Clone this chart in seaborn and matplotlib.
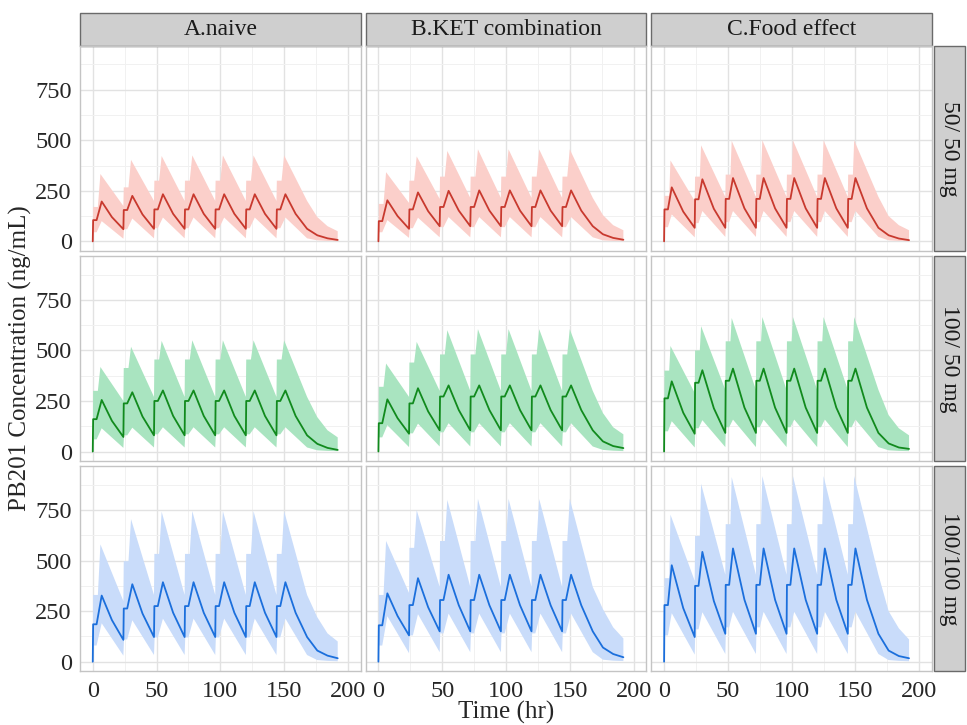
import pandas as pd
import matplotlib
matplotlib.use('Agg')
import matplotlib.pyplot as plt
from matplotlib.patches import Rectangle
from matplotlib.ticker import MultipleLocator
import seaborn as sns

studies = ['A.naive', 'B.KET combination', 'C.Food effect']
doses = ['50/ 50 mg', '100/ 50 mg', '100/100 mg']
dose_times = [0, 24, 48, 72, 96, 120, 144]
end_trough_time = 168
tail_times = [176, 184, 192]
peak_offset = [7, 7, 6]  # hours after dose, per study

# panel order: 50/50 (A, B, C), 100/50 (A, B, C), 100/100 (A, B, C)
# median
med_trough = [
    [0, 60, 62, 62, 62, 62, 62, 62],
    [0, 62, 75, 75, 75, 75, 75, 75],
    [0, 67, 67, 67, 67, 67, 67, 67],
    [0, 72, 80, 80, 80, 80, 80, 80],
    [0, 88, 105, 105, 105, 105, 105, 105],
    [0, 88, 92, 92, 92, 92, 92, 92],
    [0, 108, 122, 122, 122, 122, 122, 122],
    [0, 130, 150, 150, 150, 150, 150, 150],
    [0, 122, 138, 138, 138, 138, 138, 138],
]
med_shoulder = [
    [105, 155, 158, 158, 158, 158, 158],
    [100, 158, 170, 170, 170, 170, 170],
    [158, 208, 210, 210, 210, 210, 210],
    [160, 238, 250, 250, 250, 250, 250],
    [140, 238, 272, 272, 272, 272, 272],
    [263, 340, 350, 350, 350, 350, 350],
    [185, 263, 275, 275, 275, 275, 275],
    [180, 280, 305, 305, 305, 305, 305],
    [280, 375, 380, 380, 380, 380, 380],
]
med_peak = [
    [197, 225, 233, 233, 233, 233, 233],
    [203, 242, 250, 252, 252, 252, 252],
    [267, 307, 313, 313, 313, 313, 313],
    [255, 293, 302, 302, 302, 302, 302],
    [258, 313, 327, 327, 327, 327, 327],
    [347, 402, 410, 410, 410, 410, 410],
    [327, 383, 393, 393, 393, 393, 393],
    [338, 413, 430, 430, 430, 430, 430],
    [477, 543, 560, 560, 560, 560, 560],
]
# median 15 h after each dose (on the decline)
med_mid = [
    [120, 133, 136, 136, 136, 136, 136],
    [125, 149, 152, 152, 152, 152, 152],
    [147, 161, 163, 163, 163, 163, 163],
    [152, 173, 176, 176, 176, 176, 176],
    [165, 198, 205, 205, 205, 205, 205],
    [192, 214, 217, 217, 217, 217, 217],
    [206, 238, 242, 242, 242, 242, 242],
    [226, 269, 279, 279, 279, 279, 279],
    [265, 300, 306, 306, 306, 306, 306],
]
med_tail = [
    [30, 15, 7], [35, 17, 8], [30, 14, 6],
    [38, 18, 8], [50, 27, 17], [40, 20, 13],
    [55, 30, 17], [70, 38, 22], [55, 28, 17],
]

# upper bound of the band
hi_trough = [
    [0, 175, 200, 200, 200, 200, 200, 200],
    [0, 190, 210, 215, 215, 215, 215, 215],
    [0, 200, 220, 220, 220, 220, 220, 220],
    [0, 250, 270, 270, 270, 270, 270, 270],
    [0, 270, 300, 300, 300, 300, 300, 300],
    [0, 290, 305, 305, 305, 305, 305, 305],
    [0, 300, 330, 330, 330, 330, 330, 330],
    [0, 340, 370, 370, 370, 370, 370, 370],
    [0, 400, 430, 430, 430, 430, 430, 430],
]
hi_shoulder = [
    [170, 267, 300, 300, 300, 300, 300],
    [185, 300, 320, 320, 320, 320, 320],
    [225, 320, 330, 330, 330, 330, 330],
    [300, 413, 455, 455, 455, 455, 455],
    [320, 440, 480, 480, 480, 480, 480],
    [400, 500, 545, 545, 545, 545, 545],
    [330, 497, 533, 533, 533, 533, 533],
    [330, 563, 597, 597, 597, 597, 597],
    [413, 622, 680, 680, 680, 680, 680],
]
hi_peak = [
    [333, 403, 422, 425, 425, 425, 425],
    [342, 420, 447, 455, 455, 455, 455],
    [400, 475, 497, 500, 500, 500, 500],
    [418, 518, 547, 550, 550, 550, 550],
    [435, 542, 600, 605, 605, 605, 605],
    [522, 620, 660, 665, 665, 665, 665],
    [580, 705, 742, 745, 745, 745, 745],
    [597, 750, 800, 805, 805, 805, 805],
    [727, 880, 913, 918, 918, 918, 918],
]
hi_tail = [
    [120, 75, 50], [130, 80, 55], [125, 80, 55],
    [170, 105, 70], [190, 120, 85], [180, 115, 80],
    [220, 140, 100], [260, 170, 115], [250, 165, 110],
]

# lower bound of the band
lo_trough = [
    [0, 13, 15, 15, 15, 15, 15, 15],
    [0, 17, 20, 20, 20, 20, 20, 20],
    [0, 20, 22, 22, 22, 22, 22, 22],
    [0, 18, 20, 20, 20, 20, 20, 20],
    [0, 22, 25, 25, 25, 25, 25, 25],
    [0, 20, 22, 22, 22, 22, 22, 22],
    [0, 30, 33, 33, 33, 33, 33, 33],
    [0, 42, 47, 47, 47, 47, 47, 47],
    [0, 35, 38, 38, 38, 38, 38, 38],
]
lo_shoulder = [
    [45, 60, 65, 65, 65, 65, 65],
    [45, 65, 70, 70, 70, 70, 70],
    [70, 90, 95, 95, 95, 95, 95],
    [60, 80, 85, 85, 85, 85, 85],
    [70, 90, 95, 95, 95, 95, 95],
    [100, 115, 120, 120, 120, 120, 120],
    [80, 110, 120, 120, 120, 120, 120],
    [80, 130, 140, 140, 140, 140, 140],
    [130, 160, 170, 170, 170, 170, 170],
]
lo_peak = [
    [100, 113, 118, 118, 118, 118, 118],
    [105, 117, 120, 120, 120, 120, 120],
    [133, 150, 150, 150, 150, 150, 150],
    [115, 118, 120, 120, 120, 120, 120],
    [130, 138, 140, 140, 140, 140, 140],
    [150, 155, 158, 158, 158, 158, 158],
    [190, 205, 213, 213, 213, 213, 213],
    [225, 235, 238, 238, 238, 238, 238],
    [240, 245, 247, 247, 247, 247, 247],
]
lo_tail = [
    [5, 2, 1], [5, 2, 1], [5, 2, 1],
    [6, 3, 2], [8, 4, 2], [6, 3, 2],
    [8, 4, 2], [10, 5, 3], [8, 4, 2],
]

line_colors = ['#c8392e', '#118a1d', '#1b6fdc']
fill_colors = ['#fbcfca', '#a9e4c0', '#c9dcfa']

series = {
    'med': {'trough': med_trough, 'shoulder': med_shoulder, 'peak': med_peak,
            'mid': med_mid, 'tail': med_tail},
    'hi': {'trough': hi_trough, 'shoulder': hi_shoulder, 'peak': hi_peak, 'tail': hi_tail},
    'lo': {'trough': lo_trough, 'shoulder': lo_shoulder, 'peak': lo_peak, 'tail': lo_tail},
}


def cycle_knots(name, po):
    # (hours after dose, which array) for one dosing interval
    if name == 'med':
        return [(0, 'trough'), (0.3, 'shoulder'), (3, 'shoulder'), (po, 'peak'), (15, 'mid')]
    if name == 'hi':
        return [(0, 'trough'), (0.3, 'shoulder'), (4, 'shoulder'), (po - 1, 'peak')]
    return [(0, 'trough'), (0.5, 'shoulder'), (3, 'shoulder'), (po, 'peak')]


records = []
for r, dose in enumerate(doses):
    for c, study in enumerate(studies):
        i = r * 3 + c
        for name, arrs in series.items():
            for k, d in enumerate(dose_times):
                for off, kind in cycle_knots(name, peak_offset[c]):
                    records.append((dose, study, name, d + off, arrs[kind][i][k]))
            records.append((dose, study, name, end_trough_time, arrs['trough'][i][7]))
            for j, t in enumerate(tail_times):
                records.append((dose, study, name, t, arrs['tail'][i][j]))

df = pd.DataFrame(records, columns=['dose', 'study', 'series', 'time', 'conc'])

sns.set_style('white')
plt.rcParams['font.family'] = ['Liberation Serif', 'DejaVu Serif']


def draw_panel(data, color=None, **kws):
    ax = plt.gca()
    j = doses.index(data['dose'].iloc[0])
    hi = data[data['series'] == 'hi']
    lo = data[data['series'] == 'lo']
    ax.fill(list(hi['time']) + list(lo['time'])[::-1],
            list(hi['conc']) + list(lo['conc'])[::-1],
            color=fill_colors[j], lw=0)
    sns.lineplot(data=data[data['series'] == 'med'], x='time', y='conc',
                 color=line_colors[j], lw=1.3, estimator=None, sort=False, ax=ax)


g = sns.FacetGrid(df, row='dose', col='study', row_order=doses, col_order=studies,
                  sharex=True, sharey=True, height=2.2, aspect=1.35, despine=False)
g.map_dataframe(draw_panel)
g.set_axis_labels('', '')

for r in range(3):
    for c in range(3):
        ax = g.axes[r, c]
        ax.set_title('')
        ax.set_xlim(-10, 210)
        ax.set_ylim(-46, 966)
        ax.set_xticks([0, 50, 100, 150, 200])
        ax.set_yticks([0, 250, 500, 750])
        ax.xaxis.set_minor_locator(MultipleLocator(25))
        ax.yaxis.set_minor_locator(MultipleLocator(125))
        ax.grid(which='major', color='#e2e2e2', lw=1.0)
        ax.grid(which='minor', color='#f1f1f1', lw=0.7)
        ax.set_axisbelow(True)
        for s in ax.spines.values():
            s.set_color('#c4c4c4')
            s.set_linewidth(1.0)
        ax.tick_params(which='minor', length=0)
        ax.tick_params(axis='x', length=4 if r == 2 else 0, color='#333333',
                       labelsize=17.5, pad=3)
        ax.tick_params(axis='y', length=4 if c == 0 else 0, color='#333333',
                       labelsize=17.5, pad=2)
        if r == 0:
            ax.add_patch(Rectangle((0, 1.0), 1, 33 / 204, transform=ax.transAxes,
                                   clip_on=False, fc='#cfcfcf', ec='#6a6a6a', lw=1.0))
            ax.text(0.5, 1.0 + 16.5 / 204, studies[c], transform=ax.transAxes,
                    ha='center', va='center', fontsize=17, color='#1a1a1a')
        if c == 2:
            ax.add_patch(Rectangle((1.0 + 2 / 280, 0), 31 / 280, 1, transform=ax.transAxes,
                                   clip_on=False, fc='#cfcfcf', ec='#6a6a6a', lw=1.0))
            ax.text(1.0 + 17.5 / 280, 0.5, doses[r], transform=ax.transAxes, rotation=-90,
                    ha='center', va='center', fontsize=17, color='#1a1a1a')

fig = g.figure
fig.set_size_inches(9.67, 7.25)
fig.subplots_adjust(left=80 / 967, right=932 / 967, top=1 - 46 / 725,
                    bottom=1 - 671 / 725, wspace=5 / 281, hspace=5.5 / 204)
fig.text(20 / 967, 1 - 358 / 725, 'PB201 Concentration (ng/mL)', rotation=90,
         ha='center', va='center', fontsize=18)
fig.text(506 / 967, 1 - 712 / 725, 'Time (hr)', ha='center', va='center', fontsize=18)

fig.savefig('out.png', dpi=100)
